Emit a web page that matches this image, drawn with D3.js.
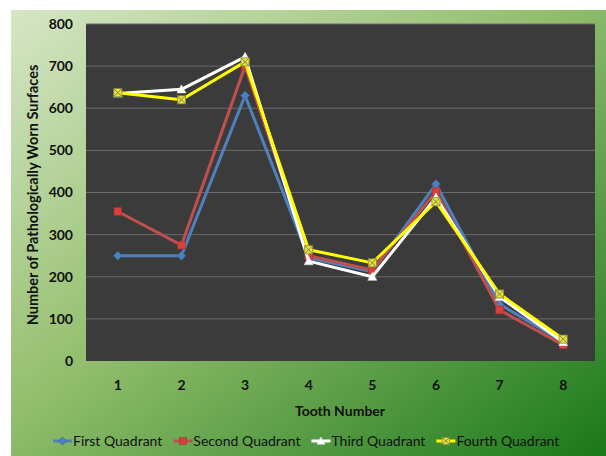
<!DOCTYPE html>
<html><head><meta charset="utf-8">
<script src="https://cdn.jsdelivr.net/npm/d3@7/dist/d3.min.js"></script>
<style>body{margin:0;background:#fff}svg{display:block}</style>
</head><body>
<svg id="c" width="606" height="456"></svg>
<script>
const categories = [1,2,3,4,5,6,7,8];
const firstQuadrant  = [250,250,630,245,212,420,135,45];
const secondQuadrant = [355,275,700,250,216,402,121,38];
const thirdQuadrant  = [635,645,722,237,200,388,152,45];
const fourthQuadrant = [637,620,710,264,233,378,159,52];
const yTicks = [0,100,200,300,400,500,600,700,800];
const seriesNames = ["First Quadrant","Second Quadrant","Third Quadrant","Fourth Quadrant"];

const series = [
  {name:seriesNames[0], values:firstQuadrant,  color:"#4f81bd", marker:"diamond"},
  {name:seriesNames[1], values:secondQuadrant, color:"#c0504d", marker:"square"},
  {name:seriesNames[2], values:thirdQuadrant,  color:"#ffffff", marker:"triangle"},
  {name:seriesNames[3], values:fourthQuadrant, color:"#ffff00", marker:"xsquare"}
];

const svg = d3.select("#c");
const defs = svg.append("defs");
const g1 = defs.append("linearGradient").attr("id","bg").attr("x1","0").attr("y1","0").attr("x2","1").attr("y2","1");
g1.append("stop").attr("offset","0").attr("stop-color","#d6e6c6");
g1.append("stop").attr("offset","0.45").attr("stop-color","#94bf6e");
g1.append("stop").attr("offset","1").attr("stop-color","#1a781a");

svg.append("rect").attr("x",11).attr("y",10).attr("width",595).attr("height",446).attr("fill","url(#bg)");

const m = {left:86, top:24, right:595, bottom:361};
const x = d3.scaleBand().domain(categories).range([m.left,m.right]);
const y = d3.scaleLinear().domain([0,800]).range([m.bottom,m.top]);

svg.append("rect").attr("x",m.left).attr("y",m.top).attr("width",m.right-m.left).attr("height",m.bottom-m.top).attr("fill","#3b3b3b");

svg.append("g").selectAll("line").data(yTicks.filter(d=>d>0)).join("line")
  .attr("x1",m.left).attr("x2",m.right).attr("y1",d=>y(d)).attr("y2",d=>y(d))
  .attr("stroke","#6a6a6a").attr("stroke-width",1);

const font = "Lato, 'Open Sans', sans-serif";
const yAxis = svg.append("g").attr("transform",`translate(${m.left},0)`)
  .call(d3.axisLeft(y).tickValues(yTicks).tickSize(0).tickPadding(13));
yAxis.select(".domain").remove();
yAxis.selectAll("text").attr("font-family",font).attr("font-size",14).attr("font-weight",700).attr("fill","#111");

const xAxis = svg.append("g").attr("transform",`translate(0,${m.bottom})`)
  .call(d3.axisBottom(x).tickSize(0).tickPadding(19));
xAxis.select(".domain").remove();
xAxis.selectAll("text").attr("font-family",font).attr("font-size",14).attr("font-weight",700).attr("fill","#111");

svg.append("text").attr("x",340).attr("y",416).attr("text-anchor","middle")
  .attr("font-family",font).attr("font-size",14).attr("font-weight",700).attr("fill","#111").text("Tooth Number");
svg.append("text").attr("transform","translate(38,195) rotate(-90)").attr("text-anchor","middle")
  .attr("font-family",font).attr("font-size",14.5).attr("font-weight",700).attr("fill","#111")
  .text("Number of Pathologically Worn Surfaces");

const line = d3.line().x((d,i)=>x(categories[i])+x.bandwidth()/2).y(d=>y(d));

function drawMarker(sel, type, color, cx, cy, s){
  if(type==="diamond"){
    sel.append("path").attr("d",`M${cx},${cy-s}L${cx+s},${cy}L${cx},${cy+s}L${cx-s},${cy}Z`).attr("fill",color).attr("stroke","#2f5f95").attr("stroke-width",0.6);
  } else if(type==="square"){
    sel.append("rect").attr("x",cx-s*0.85).attr("y",cy-s*0.85).attr("width",s*1.7).attr("height",s*1.7).attr("fill","#d8403c").attr("stroke","#9a3532").attr("stroke-width",0.6);
  } else if(type==="triangle"){
    sel.append("path").attr("d",`M${cx},${cy-s}L${cx+s},${cy+s*0.8}L${cx-s},${cy+s*0.8}Z`).attr("fill","#fff").attr("stroke","#ddd").attr("stroke-width",0.6);
  } else {
    const h=s*0.9;
    sel.append("rect").attr("x",cx-h).attr("y",cy-h).attr("width",2*h).attr("height",2*h).attr("fill","#e6e24a").attr("stroke","#8a8a30").attr("stroke-width",0.8);
    sel.append("path").attr("d",`M${cx-h},${cy-h}L${cx+h},${cy+h}M${cx+h},${cy-h}L${cx-h},${cy+h}`).attr("stroke","#8a8a30").attr("stroke-width",1);
  }
}

series.forEach(s=>{
  const g = svg.append("g");
  g.append("path").datum(s.values).attr("d",line).attr("fill","none").attr("stroke",s.color).attr("stroke-width",3).attr("stroke-linejoin","round");
  s.values.forEach((v,i)=>drawMarker(g, s.marker, s.color, x(categories[i])+x.bandwidth()/2, y(v), 4.5));
});

// legend
const leg = svg.append("g");
let lx = 53; const ly = 441;
series.forEach((s,i)=>{
  const it = leg.append("g");
  it.append("line").attr("x1",lx).attr("x2",lx+19).attr("y1",ly).attr("y2",ly).attr("stroke",s.color).attr("stroke-width",3);
  drawMarker(it, s.marker, s.color, lx+9.5, ly, 4);
  const t = it.append("text").attr("x",lx+20).attr("y",ly+5).attr("font-family",font).attr("font-size",14).attr("fill","#111").text(s.name);
  const w = t.node().getComputedTextLength();
  lx += 20 + w + 11;
});
</script>
</body></html>
